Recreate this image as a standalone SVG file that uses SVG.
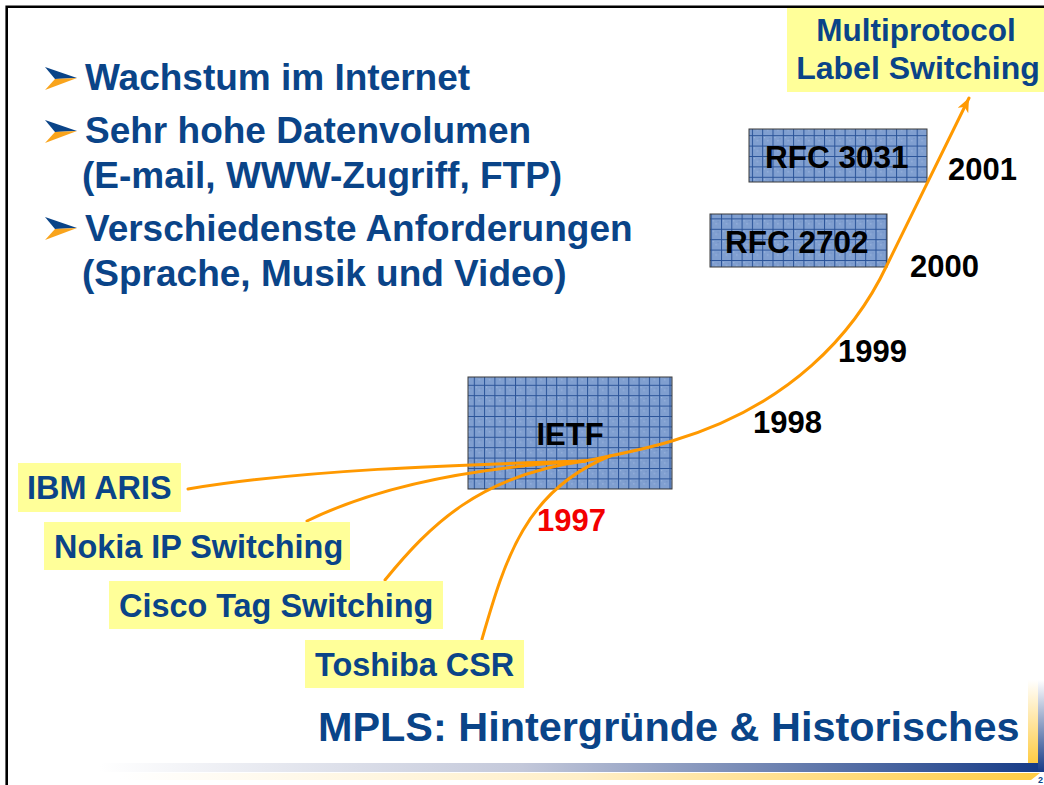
<svg xmlns="http://www.w3.org/2000/svg" width="1044" height="785" viewBox="0 0 1044 785">
<defs>
<style>
.b{font-family:"Liberation Sans",Arial,sans-serif;font-weight:bold}
.nv{fill:#0a4488}
.bul{font-size:37px}
.lbl{font-size:32.4px}
.yr{font-size:31px;fill:#000}
.lab{fill:#ffff99}
.hb{fill:url(#grid);stroke:#3a3a3a;stroke-width:1}
.con{fill:none;stroke:#ff9900;stroke-width:3;stroke-linecap:round}
</style>
<pattern id="grid" width="10.3" height="10.4" patternUnits="userSpaceOnUse">
<rect width="10.3" height="10.4" fill="#809fd0"/>
<rect x="2" y="2" width="1" height="1" fill="#a9c0e6"/>
<rect x="5" y="5" width="1" height="1" fill="#a9c0e6"/>
<rect x="7" y="3" width="1" height="1" fill="#6a88c0"/>
<path d="M0,0.5 H10.3 M0.5,0 V10.4" stroke="#2a5398" stroke-width="1"/>
</pattern>
<marker id="ah" markerUnits="userSpaceOnUse" markerWidth="16" markerHeight="14" refX="14" refY="6" orient="auto">
<path d="M0,0 L14,6 L0,12 L4,6 z" fill="#ff9900"/>
</marker>
<linearGradient id="gb" x1="0" y1="0" x2="1" y2="0">
<stop offset="0" stop-color="#ffffff"/>
<stop offset="0.45" stop-color="#c3c8da"/>
<stop offset="1" stop-color="#163b87"/>
</linearGradient>
<linearGradient id="gy" x1="0" y1="0" x2="1" y2="0">
<stop offset="0" stop-color="#ffffff"/>
<stop offset="0.5" stop-color="#ffefc8"/>
<stop offset="1" stop-color="#ffcc44"/>
</linearGradient>
<linearGradient id="gyv" x1="0" y1="0" x2="0" y2="1">
<stop offset="0" stop-color="#ffffff"/>
<stop offset="1" stop-color="#ffcc44"/>
</linearGradient>
<linearGradient id="gbv" x1="0" y1="0" x2="0" y2="1">
<stop offset="0" stop-color="#ffffff"/>
<stop offset="1" stop-color="#163b87"/>
</linearGradient>
</defs>
<rect width="1044" height="785" fill="#ffffff"/>
<path d="M6.7,785 V6.7 H1044" fill="none" stroke="#000" stroke-width="2.6"/>

<g id="bullets">
<g id="bullet1">
<polygon points="45,67 77,78 55,79" fill="#0a4488"/>
<polygon points="55,79 77,78 45,90" fill="#f9a41c"/>
<text class="b nv bul" x="85" y="90">Wachstum im Internet</text>
</g>
<g id="bullet2">
<polygon points="45,120 77,131 55,132" fill="#0a4488"/>
<polygon points="55,132 77,131 45,143" fill="#f9a41c"/>
<text class="b nv bul" x="85" y="143">Sehr hohe Datenvolumen</text>
<text class="b nv bul" x="82" y="188">(E-mail, WWW-Zugriff, FTP)</text>
</g>
<g id="bullet3">
<polygon points="45,217 77,228 55,229" fill="#0a4488"/>
<polygon points="55,229 77,228 45,240" fill="#f9a41c"/>
<text class="b nv bul" x="85" y="241">Verschiedenste Anforderungen</text>
<text class="b nv bul" x="82" y="286">(Sprache, Musik und Video)</text>
</g>
</g>

<g id="ietf">
<rect class="hb" x="468" y="377" width="204" height="112"/>
<text class="b" x="570" y="445" font-size="31" text-anchor="middle">IETF</text>
</g>
<g id="rfc3031">
<rect class="hb" x="749" y="129" width="178" height="53"/>
<text class="b" x="765" y="168" font-size="31.5">RFC 3031</text>
</g>
<g id="rfc2702">
<rect class="hb" x="710" y="214" width="177" height="53"/>
<text class="b" x="725" y="253" font-size="31.5">RFC 2702</text>
</g>

<g id="connectors">
<path class="con" d="M188,489 C300,470 450,465 585,461"/>
<path class="con" d="M307,521 C370,490 460,468 585,461"/>
<path class="con" d="M385,580 C430,525 480,475 585,461"/>
<path class="con" d="M482,639 C505,560 525,490 610,456"/>
<path class="con" d="M585,461 C615,455 642,450 672,441 C790,406 855,333 887,265 L969,98" marker-end="url(#ah)"/>
</g>

<g id="mpls">
<rect class="lab" x="787" y="8" width="257" height="84"/>
<text class="b nv" x="916" y="41" font-size="31.5" text-anchor="middle">Multiprotocol</text>
<text class="b nv" x="918" y="79" font-size="32" text-anchor="middle">Label Switching</text>
</g>
<g id="ibm">
<rect class="lab" x="18" y="463" width="163" height="49"/>
<text class="b nv lbl" x="27" y="499">IBM ARIS</text>
</g>
<g id="nokia">
<rect class="lab" x="44" y="522" width="306" height="48"/>
<text class="b nv lbl" x="54" y="558">Nokia IP Switching</text>
</g>
<g id="cisco">
<rect class="lab" x="109" y="581" width="334" height="48"/>
<text class="b nv lbl" x="119" y="617">Cisco Tag Switching</text>
</g>
<g id="toshiba">
<rect class="lab" x="305" y="640" width="219" height="48"/>
<text class="b nv lbl" x="315" y="676">Toshiba CSR</text>
</g>

<g id="years">
<text class="b yr" x="948" y="180">2001</text>
<text class="b yr" x="910" y="277">2000</text>
<text class="b yr" x="838" y="362">1999</text>
<text class="b yr" x="753" y="433">1998</text>
<text class="b" x="537" y="531" font-size="31" fill="#f20000">1997</text>
</g>

<g id="footer">
<rect x="1028" y="680" width="10" height="83" fill="url(#gyv)"/>
<rect x="1038" y="680" width="6" height="92" fill="url(#gbv)"/>
<rect x="100" y="763" width="938" height="9" fill="url(#gb)"/>
<polygon points="120,773 1040,773 1031,780 120,780" fill="url(#gy)"/>
<text class="b nv" x="318" y="741" font-size="41.4">MPLS: Hintergründe &amp; Historisches</text>
<text class="b nv" x="1038" y="783" font-size="9">2</text>
</g>
</svg>
